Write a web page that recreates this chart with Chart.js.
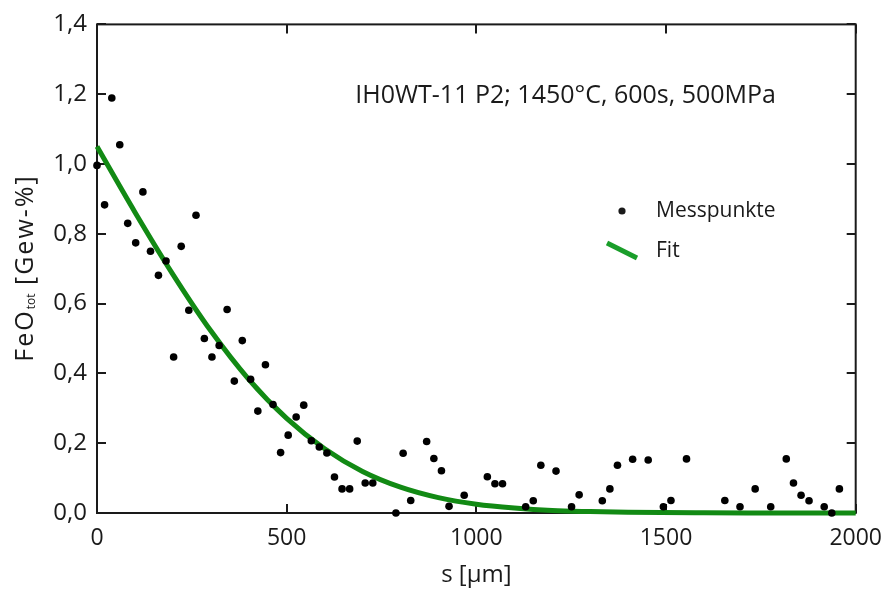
<!DOCTYPE html>
<html>
<head>
<meta charset="utf-8">
<script src="https://cdn.jsdelivr.net/npm/chart.js@4/dist/chart.umd.min.js"></script>
<style>
  html, body { margin: 0; padding: 0; background: #fff; }
  #wrap { width: 894px; height: 594px; }
</style>
</head>
<body>
<div id="wrap"><canvas id="c" width="894" height="594"></canvas></div>
<script>
// Messpunkte: s [µm] / FeO [Gew-%]
const pointS = [0, 20, 39, 60, 81, 102, 121, 141, 162, 182, 202, 222, 242, 261, 283, 303, 322, 343, 362, 383,
  405, 424, 444, 464, 484, 504, 525, 545, 565, 586, 606, 626, 646, 666, 686, 707, 727, 788, 807, 827,
  869, 888, 908, 928, 968, 1029, 1049, 1069, 1130, 1150, 1170, 1210, 1251, 1271, 1332, 1352, 1372, 1412, 1453, 1493,
  1513, 1554, 1655, 1695, 1735, 1776, 1817, 1836, 1856, 1877, 1917, 1937, 1957];
const pointFeO = [0.996, 0.883, 1.189, 1.055, 0.830, 0.774, 0.920, 0.750, 0.681, 0.722, 0.447, 0.764, 0.581, 0.853, 0.500, 0.447, 0.480, 0.583, 0.378, 0.494,
  0.383, 0.292, 0.425, 0.311, 0.173, 0.223, 0.275, 0.309, 0.207, 0.189, 0.172, 0.103, 0.069, 0.069, 0.206, 0.086, 0.086, 0.0, 0.171, 0.036,
  0.205, 0.156, 0.121, 0.019, 0.051, 0.104, 0.084, 0.084, 0.018, 0.035, 0.137, 0.120, 0.018, 0.052, 0.035, 0.069, 0.137, 0.154, 0.152, 0.018,
  0.036, 0.155, 0.036, 0.018, 0.069, 0.018, 0.155, 0.086, 0.051, 0.035, 0.018, 0.0, 0.069];

// Fit-Kurve
const fitS = [0, 100, 200, 300, 400, 500, 600, 700, 800, 900, 1000, 1100, 1200, 1300, 1400, 1600, 1800, 2000];
const fitFeO = [1.05, 0.862, 0.684, 0.522, 0.383, 0.271, 0.184, 0.119, 0.074, 0.044, 0.025, 0.014, 0.007, 0.004, 0.002, 0.0005, 0.0001, 0];

const xTicks = [0, 500, 1000, 1500, 2000];
const yTicks = [0, 0.2, 0.4, 0.6, 0.8, 1.0, 1.2, 1.4];

const FONT = '"Open Sans", "DejaVu Sans", sans-serif';
const INK = '#1a1a1a';
const GREEN = '#128a14';

const framePlugin = {
  id: 'frame',
  beforeDatasetsDraw(chart) {
    const { ctx, chartArea: a, scales: { x, y } } = chart;
    ctx.save();
    ctx.strokeStyle = INK;
    ctx.lineWidth = 2;
    ctx.strokeRect(a.left, a.top, a.right - a.left, a.bottom - a.top);
    const t = 9;
    ctx.beginPath();
    xTicks.forEach(v => {
      const px = Math.round(x.getPixelForValue(v));
      ctx.moveTo(px, a.bottom); ctx.lineTo(px, a.bottom - t);
      ctx.moveTo(px, a.top); ctx.lineTo(px, a.top + t);
    });
    yTicks.forEach(v => {
      const py = Math.round(y.getPixelForValue(v));
      ctx.moveTo(a.left, py); ctx.lineTo(a.left + t, py);
      ctx.moveTo(a.right, py); ctx.lineTo(a.right - t, py);
    });
    ctx.stroke();
    ctx.restore();
  },
  afterDraw(chart) {
    const { ctx } = chart;
    ctx.save();
    ctx.fillStyle = INK;
    ctx.textBaseline = 'middle';

    // Versuchsbezeichnung
    ctx.font = `25px ${FONT}`;
    ctx.textAlign = 'right';
    ctx.fillText('IH0WT-11 P2; 1450°C, 600s, 500MPa', 776, 96);

    // Legende
    ctx.textAlign = 'left';
    ctx.font = `21px ${FONT}`;
    ctx.beginPath();
    ctx.arc(622, 211, 3.6, 0, Math.PI * 2);
    ctx.fill();
    ctx.fillText('Messpunkte', 656, 211);
    ctx.strokeStyle = '#1a9e2a';
    ctx.lineWidth = 5;
    ctx.beginPath();
    ctx.moveTo(607, 243); ctx.lineTo(637, 258);
    ctx.stroke();
    ctx.fillText('Fit', 656, 251);

    // y-Achsentitel mit Index
    ctx.translate(26, 268);
    ctx.rotate(-Math.PI / 2);
    const big = `25px ${FONT}`, small = `12px ${FONT}`;
    const parts = [['FeO', big, 0, '2px'], ['tot', small, 6, '0px'], [' [Gew-%]', big, 0, '2px']];
    let w = 0;
    parts.forEach(p => { ctx.font = p[1]; ctx.letterSpacing = p[3]; w += ctx.measureText(p[0]).width; });
    let cx = -w / 2;
    parts.forEach(p => {
      ctx.font = p[1];
      ctx.letterSpacing = p[3];
      ctx.fillText(p[0], cx, p[2]);
      cx += ctx.measureText(p[0]).width;
    });
    ctx.restore();
  }
};

new Chart(document.getElementById('c'), {
  type: 'scatter',
  data: {
    datasets: [
      {
        label: 'Messpunkte',
        data: pointS.map((s, i) => ({ x: s, y: pointFeO[i] })),
        backgroundColor: '#000', borderColor: '#000',
        pointRadius: 3.8, pointBorderWidth: 0, clip: false
      },
      {
        label: 'Fit', type: 'line',
        data: fitS.map((s, i) => ({ x: s, y: fitFeO[i] })),
        borderColor: GREEN, borderWidth: 5, pointRadius: 0,
        cubicInterpolationMode: 'monotone', fill: false, clip: false
      }
    ]
  },
  options: {
    responsive: false, animation: false,
    layout: { padding: { left: 0, top: 22, right: 34, bottom: 0 } },
    plugins: { legend: { display: false }, tooltip: { enabled: false } },
    scales: {
      x: {
        type: 'linear', min: 0, max: 2000,
        afterBuildTicks: s => { s.ticks = xTicks.map(v => ({ value: v })); },
        afterFit: s => { s.height = 81; },
        grid: { display: false, drawTicks: false }, border: { display: false },
        ticks: { color: INK, font: { family: FONT, size: 23 }, padding: 12, callback: v => String(v) },
        title: { display: true, text: 's [µm]', color: INK, font: { family: FONT, size: 24 }, padding: { top: 0 } }
      },
      y: {
        min: 0, max: 1.4,
        afterBuildTicks: s => { s.ticks = yTicks.map(v => ({ value: v })); },
        afterFit: s => { s.width = 97; },
        grid: { display: false, drawTicks: false }, border: { display: false },
        ticks: { color: INK, font: { family: FONT, size: 24 }, padding: 10, callback: v => v.toFixed(1).replace('.', ',') }
      }
    }
  },
  plugins: [framePlugin]
});
</script>
</body>
</html>
